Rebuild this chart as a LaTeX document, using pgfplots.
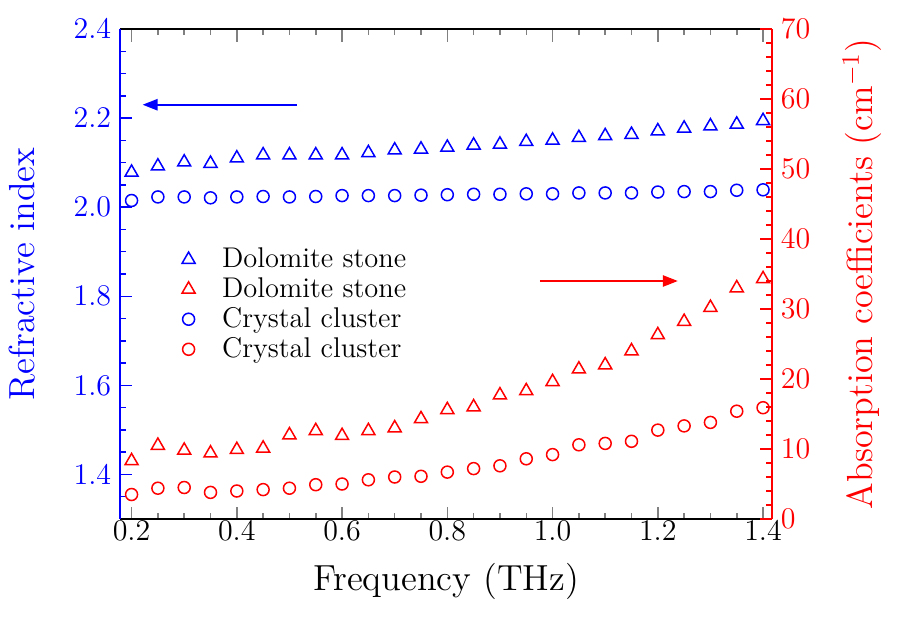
\documentclass[border=0pt]{standalone}
\usepackage{pgfplots}
\usepackage{pgfplotstable}
\pgfplotsset{compat=1.18}
\usetikzlibrary{arrows.meta}
\definecolor{cb}{RGB}{0,0,255}
\definecolor{cr}{RGB}{255,0,0}

\pgfplotstableread{
f n a
0.20 2.078 8.3
0.25 2.092 10.5
0.30 2.101 9.8
0.35 2.098 9.4
0.40 2.110 9.9
0.45 2.117 10.1
0.50 2.117 12.0
0.55 2.117 12.6
0.60 2.117 11.9
0.65 2.122 12.6
0.70 2.128 13.0
0.75 2.130 14.3
0.80 2.134 15.6
0.85 2.139 16.0
0.90 2.141 17.7
0.95 2.147 18.3
1.00 2.150 19.6
1.05 2.156 21.4
1.10 2.160 22.0
1.15 2.163 24.0
1.20 2.171 26.3
1.25 2.177 28.2
1.30 2.182 30.2
1.35 2.186 33.0
1.40 2.194 34.3
}\dolomite

\pgfplotstableread{
f n a
0.20 2.015 3.5
0.25 2.023 4.4
0.30 2.023 4.5
0.35 2.021 3.8
0.40 2.023 4.0
0.45 2.024 4.2
0.50 2.023 4.4
0.55 2.024 4.9
0.60 2.026 5.0
0.65 2.026 5.6
0.70 2.026 6.0
0.75 2.027 6.1
0.80 2.028 6.7
0.85 2.029 7.2
0.90 2.029 7.6
0.95 2.030 8.6
1.00 2.030 9.2
1.05 2.032 10.6
1.10 2.032 10.8
1.15 2.032 11.1
1.20 2.034 12.7
1.25 2.035 13.3
1.30 2.035 13.8
1.35 2.038 15.4
1.40 2.039 15.9
}\crystal

\begin{document}
\begin{tikzpicture}
\pgfplotsset{
  common/.style={
    width=260.8pt, height=196pt, scale only axis,
    xmin=0.178, xmax=1.417,
    tick align=inside,
    major tick length=5pt, minor tick length=2.5pt,
    tick label style={font=\fontsize{11.8}{14}\selectfont},
    label style={font=\fontsize{14.5}{17}\selectfont},
    every axis plot/.append style={line width=0.6pt},
    axis line style={line width=0.8pt},
    every tick/.append style={line width=0.6pt},
  },
}
\begin{axis}[common,
  axis y line*=left,
  axis x line*=box,
  ymin=1.3, ymax=2.4,
  xtick={0.2,0.4,0.6,0.8,1.0,1.2,1.4},
  minor xtick={0.25,0.3,0.35,0.45,0.5,0.55,0.65,0.7,0.75,0.85,0.9,0.95,1.05,1.1,1.15,1.25,1.3,1.35},
  ytick={1.4,1.6,1.8,2.0,2.2,2.4},
  minor ytick={1.35,1.45,1.5,1.55,1.65,1.7,1.75,1.85,1.9,1.95,2.05,2.1,2.15,2.25,2.3,2.35},
  xticklabel style={yshift=2.5pt, /pgf/number format/.cd, fixed, fixed zerofill, precision=1},
  yticklabel style={cb, /pgf/number format/.cd, fixed, fixed zerofill, precision=1},
  y axis line style={cb},
  y tick style={cb},
  xlabel={Frequency (THz)},
  ylabel={Refractive index},
  ylabel style={cb, at={(axis description cs:-0.150,0.5)}, anchor=center},
  xlabel style={at={(axis description cs:0.5,-0.1265)}, anchor=center},
  legend style={at={(rel axis cs:0.083,0.575)}, anchor=north west, draw=none, fill=none,
    font=\fontsize{11.4}{13}\selectfont, row sep=-1.5pt,
    /tikz/every odd column/.append style={column sep=8.8pt}},
  legend cell align=left,
]
\addplot[only marks, cb, mark=triangle, mark size=3pt] table[x=f,y=n] \dolomite;
\addlegendentry{Dolomite stone}
\addlegendimage{only marks, cr, mark=triangle, mark size=3pt, line width=0.6pt}
\addlegendentry{Dolomite stone}
\addplot[only marks, cb, mark=o, mark size=2.4pt] table[x=f,y=n] \crystal;
\addlegendentry{Crystal cluster}
\addlegendimage{only marks, cr, mark=o, mark size=2.4pt, line width=0.6pt}
\addlegendentry{Crystal cluster}
\draw[cb, line width=0.8pt, -{Triangle[length=6pt,width=4.5pt]}] (axis cs:0.514,2.23) -- (axis cs:0.221,2.23);
\end{axis}
\begin{axis}[common,
  axis y line*=right,
  axis x line=none,
  ymin=0, ymax=70,
  ytick={0,10,20,30,40,50,60,70},
  minor ytick={2,4,6,8,12,14,16,18,22,24,26,28,32,34,36,38,42,44,46,48,52,54,56,58,62,64,66,68},
  yticklabel style={cr},
  y axis line style={cr},
  y tick style={cr},
  ylabel={Absorption coefficients (cm$^{-1}$)},
  ylabel style={cr, at={(axis description cs:1.138,0.5)}, anchor=center},
]
\addplot[only marks, cr, mark=triangle, mark size=3pt] table[x=f,y=a] \dolomite;
\addplot[only marks, cr, mark=o, mark size=2.4pt] table[x=f,y=a] \crystal;
\draw[cr, line width=0.8pt, -{Triangle[length=6pt,width=4.5pt]}] (axis cs:0.976,34.0) -- (axis cs:1.238,34.0);
\end{axis}
\pgfresetboundingbox
\path (-48pt,-44.4pt) rectangle (315.6pt,207.6pt);
\end{tikzpicture}
\end{document}
